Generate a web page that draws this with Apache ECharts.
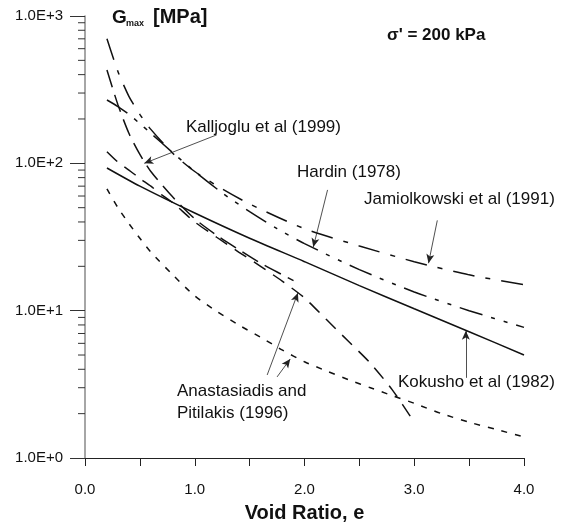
<!DOCTYPE html>
<html>
<head>
<meta charset="utf-8">
<script src="https://cdn.jsdelivr.net/npm/echarts@6/dist/echarts.min.js"></script>
<style>html,body{margin:0;padding:0;background:#fff}#c{width:565px;height:524px}</style>
</head>
<body>
<div id="c"></div>
<script>
// ---- data ----
const xTicks = [0, 0.5, 1, 1.5, 2, 2.5, 3, 3.5, 4];
const yMajor = [1, 10, 100, 1000];
const yMinor = [2,3,4,5,6,7,8,9,20,30,40,50,60,70,80,90,200,300,400,500,600,700,800,900];

const eKokusho = [0.2, 0.5, 1.0, 1.5, 2.0, 2.5, 3.0, 3.5, 4.0];
const gKokusho = [93, 70, 46, 31, 21.5, 14.8, 10.3, 7.2, 5.0];

const eHardin = [0.2, 0.3, 0.4, 0.5, 0.6, 0.8, 1.0, 1.25, 1.5, 1.75, 2.0, 2.5, 3.0, 3.5, 4.0];
const gHardin = [269, 243, 215, 186, 160, 118, 88, 63, 47, 36, 28.5, 19, 13.4, 10, 7.7];

const eJamiol = [0.2, 0.3, 0.4, 0.5, 0.6, 0.8, 1.0, 1.25, 1.5, 2.0, 2.5, 3.0, 3.5, 4.0];
const gJamiol = [700, 420, 285, 215, 170, 117, 88, 67, 53, 36, 27.5, 21.5, 17.5, 15];

const eKallio = [0.2, 0.3, 0.4, 0.5, 0.6, 0.8, 1.0, 1.2, 1.4, 1.6, 1.8, 1.9];
const gKallio = [430, 250, 160, 115, 88, 59, 42, 32.5, 26, 21, 17.5, 16];

const eAnastA = [0.2, 0.3, 0.4, 0.5, 0.6, 0.7, 0.8, 1.0, 1.2, 1.4, 1.6, 1.8, 2.0, 2.2, 2.4, 2.6, 2.8, 3.0];
const gAnastA = [120, 102, 90, 79, 70, 61, 54, 40, 31.5, 25, 20, 15.8, 12.2, 8.7, 6.2, 4.4, 2.9, 1.75];

const eAnastB = [0.2, 0.3, 0.4, 0.5, 0.6, 0.8, 1.0, 1.2, 1.4, 1.6, 1.8, 2.0, 2.2, 2.4, 2.6, 2.8, 3.0, 3.25, 3.5, 3.75, 4.0];
const gAnastB = [67, 50, 39, 31, 25, 17.5, 12.6, 9.9, 8.0, 6.6, 5.4, 4.5, 3.9, 3.4, 3.0, 2.65, 2.35, 2.0, 1.75, 1.56, 1.39];

// annotation arrows: [startE, startG, tipE, tipG]
const arrowKallio = [1.20, 156, 0.54, 100];
const arrowHardin = [2.21, 66, 2.08, 27];
const arrowJamiol = [3.21, 41, 3.13, 21];
const arrowKokusho = [3.47, 3.5, 3.47, 7.3];
const arrowAnast1 = [1.66, 3.66, 1.94, 13.2];
const arrowAnast2 = [1.75, 3.55, 1.87, 4.7];

const FONT = "'Liberation Sans', Arial, sans-serif";
const INK = '#111';

function pairs(xs, ys) { return xs.map((x, i) => [x, ys[i]]); }
function arrow(a) { return [{ coord: [a[0], a[1]] }, { coord: [a[2], a[3]] }]; }
function curve(name, xs, ys, type) {
  return {
    name, type: 'line', data: pairs(xs, ys), showSymbol: false, smooth: 0.25,
    lineStyle: { color: INK, width: 1.5, type: type }, silent: true, animation: false, z: 3
  };
}

const chart = echarts.init(document.getElementById('c'), null, { renderer: 'canvas' });
const series = [
  curve('Kokusho et al (1982)', eKokusho, gKokusho, 'solid'),
  curve('Hardin (1978)', eHardin, gHardin, [24, 9, 4, 9, 4, 9]),
  curve('Jamiolkowski et al (1991)', eJamiol, gJamiol, [22, 11, 5, 11]),
  curve('Kalljoglu et al (1999)', eKallio, gKallio, [18, 8]),
  curve('Anastasiadis and Pitilakis (1996) a', eAnastA, gAnastA, [14, 9]),
  curve('Anastasiadis and Pitilakis (1996) b', eAnastB, gAnastB, [6, 8]),
  {
    type: 'custom', coordinateSystem: 'cartesian2d', silent: true, animation: false, clip: false,
    data: yMinor.map(v => [0, v]),
    renderItem: function (params, api) {
      const p = api.coord([api.value(0), api.value(1)]);
      return { type: 'line', shape: { x1: p[0] - 7, y1: p[1], x2: p[0], y2: p[1] },
        style: { stroke: '#333', lineWidth: 1 } };
    }
  },
  {
    type: 'line', data: [], silent: true, animation: false,
    markLine: {
      silent: true, animation: false, symbol: ['none', 'arrow'], symbolSize: [6, 9],
      label: { show: false },
      lineStyle: { color: '#222', width: 0.8, type: 'solid' },
      data: [arrow(arrowKallio), arrow(arrowHardin), arrow(arrowJamiol), arrow(arrowKokusho), arrow(arrowAnast1), arrow(arrowAnast2)]
    }
  }
];

function txt(text, left, top, size, bold) {
  return { type: 'text', left: left, top: top, silent: true,
    style: { text: text, font: (bold ? 'bold ' : '') + size + 'px ' + FONT, fill: INK } };
}

chart.setOption({
  animation: false,
  backgroundColor: '#fff',
  grid: { left: 85, right: 41, top: 16, bottom: 66, containLabel: false, outerBoundsMode: 'none' },
  xAxis: {
    type: 'value', min: 0, max: 4, interval: 0.5,
    axisLine: { show: true, lineStyle: { color: '#222', width: 1 } },
    axisTick: { show: true, length: 8, lineStyle: { color: '#222' } },
    splitLine: { show: false },
    axisLabel: { margin: 24, fontFamily: FONT, fontSize: 15, color: INK,
      formatter: v => (Math.abs(v - Math.round(v)) < 1e-9 ? v.toFixed(1) : '') },
    name: 'Void Ratio, e', nameLocation: 'middle', nameGap: 45,
    nameTextStyle: { fontFamily: FONT, fontSize: 20, fontWeight: 'bold', color: INK }
  },
  yAxis: {
    type: 'log', logBase: 10, min: 1, max: 1000,
    axisLine: { show: true, onZero: false, lineStyle: { color: '#888', width: 1.5 } },
    axisTick: { show: true, length: 15, lineStyle: { color: '#333' } },
    minorTick: { show: false },
    splitLine: { show: false },
    axisLabel: { margin: 22, fontFamily: FONT, fontSize: 15, color: INK,
      formatter: v => '1.0E+' + Math.round(Math.log10(v)) }
  },
  graphic: [
    txt('G', 112, 8, 19, true),
    txt('max', 126, 19, 9, true),
    txt('[MPa]', 153, 7, 20, true),
    txt("σ' = 200 kPa", 387, 27, 17, true),
    txt('Kalljoglu et al (1999)', 186, 119, 17, false),
    txt('Hardin (1978)', 297, 164, 17, false),
    txt('Jamiolkowski et al (1991)', 364, 191, 17, false),
    txt('Kokusho et al (1982)', 398, 374, 17, false),
    txt('Anastasiadis and', 177, 383, 17, false),
    txt('Pitilakis (1996)', 177, 405, 17, false)
  ],
  series: series
});
</script>
</body>
</html>
